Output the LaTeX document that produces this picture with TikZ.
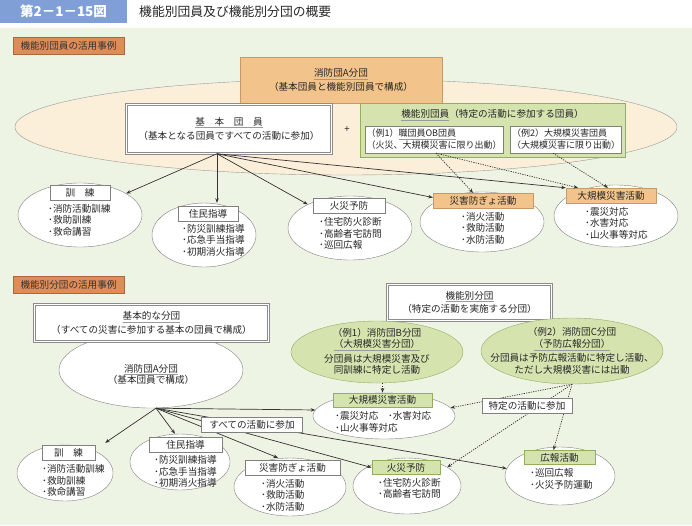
\documentclass[tikz,border=0pt]{standalone}
\usepackage{fontspec}
\setmainfont{Noto Sans CJK JP}
\usetikzlibrary{arrows.meta,shapes.geometric,calc}
\definecolor{bgc}{HTML}{EEF4E4}
\definecolor{hdr}{HTML}{7F9FD6}
\definecolor{secf}{HTML}{DE8C58}
\definecolor{secd}{HTML}{A9693D}
\definecolor{peach}{HTML}{FCEFDA}
\definecolor{orf}{HTML}{F2C38A}
\definecolor{ord}{HTML}{C49A68}
\definecolor{grf}{HTML}{D5E3AF}
\definecolor{grd}{HTML}{93AE5E}
\definecolor{txt}{HTML}{262626}
\definecolor{ulc}{HTML}{9A9A9A}
\definecolor{edg}{HTML}{808080}
\newcommand\uln[1]{{\color{ulc}$\underline{\hbox{\color{txt}#1}}$}}
\tikzset{
  base/.style={font=\fontsize{9.6}{11.5}\selectfont, text=txt},
  seclbl/.style={rectangle, draw=secd, fill=secf, minimum height=17, inner sep=0, text=black!80},
  obox/.style={rectangle, draw=ord, fill=orf, inner sep=0, align=center},
  dbox/.style={rectangle, draw=black!45, line width=0.5pt, double=white, double distance=1.6pt, fill=white, inner sep=0, align=center},
  wbox/.style={rectangle, draw=edg, fill=white, inner sep=1.5pt, align=left},
  gbox/.style={rectangle, draw=grd, line width=0.6pt, fill=grf, inner sep=0},
  ell/.style={ellipse, draw=edg, fill=white, inner sep=0},
  gell/.style={ellipse, draw=grd, fill=grf, inner sep=0},
  lbl/.style={rectangle, draw=edg, fill=white, inner sep=0, minimum height=15},
  olbl/.style={rectangle, draw=ord, fill=orf, inner sep=0, minimum height=15},
  glbl/.style={rectangle, draw=grd, line width=0.9pt, fill=grf, inner sep=0, minimum height=14},
  items/.style={anchor=west, inner sep=0, align=left},
  arr/.style={draw=black!80, line width=0.7pt, -{Stealth[length=4.5pt,width=3.5pt]}},
  darr/.style={arr, dash pattern=on 1.2pt off 1.2pt}
}
\begin{document}
\begin{tikzpicture}[x=1pt,y=-1pt,base]
\useasboundingbox (0,0) rectangle (692,525);
\fill[bgc] (0,28) rectangle (692,525);
% header
\node[fill=hdr, minimum width=127, minimum height=23, inner sep=0, text=white, font=\fontsize{13.5}{14}\selectfont\bfseries] (hdr) at (63.5,11.5) {第2－1－15図};
\node[anchor=west, inner sep=0, font=\fontsize{12.8}{14}\selectfont, text=black!85] (title) at (139,12) {機能別団員及び機能別分団の概要};
% ================= section 1
\node[seclbl, minimum width=111] (sec1) at (68.5,46) {機能別団員の活用事例};
\node[ellipse, draw=edg!80, fill=peach, minimum width=662, minimum height=96, inner sep=0] (big) at (346,127) {};
\node[obox, minimum width=202, minimum height=46] (a1) at (341,80) {\uln{消防団A分団}\\[2pt]（基本団員と機能別団員で構成）};
\node[dbox, minimum width=205, minimum height=49] (basic) at (229,129) {\uln{基　本　団　員}\\[3pt]（基本となる団員ですべての活動に参加）};
\node (plus) at (347,130) {+};
\node[gbox, minimum width=265, minimum height=54] (kino) at (492.5,130) {};
\node[inner sep=0] (kinot) at (492.5,115) {\uln{機能別団員}（特定の活動に参加する団員）};
\node[wbox, minimum width=138, minimum height=27, font=\fontsize{9}{12}\selectfont] (ex1) at (434,139.5) {（例1）\uln{職団員OB団員}\\（火災、大規模災害に限り出動）};
\node[wbox, minimum width=110, minimum height=27, font=\fontsize{9}{12}\selectfont] (ex2) at (566,139.5) {（例2）\uln{大規模災害団員}\\（大規模災害に限り出動）};
% lower ellipses
\node[ell, minimum width=124, minimum height=64] (e1) at (80,215) {};
\node[lbl, minimum width=60] (l1) at (80,193) {訓　練};
\node[items] (i1) at (48,220) {･消防活動訓練\\･救助訓練\\･救命講習};
\node[ell, minimum width=104, minimum height=64] (e2) at (204,235) {};
\node[lbl, minimum width=60] (l2) at (208,213.5) {住民指導};
\node[items] (i2) at (182,240) {･防災訓練指導\\･応急手当指導\\･初期消火指導};
\node[ell, minimum width=124, minimum height=64] (e3) at (350,228) {};
\node[lbl, minimum width=72] (l3) at (349,206) {火災予防};
\node[items] (i3) at (319,233.5) {･住宅防火診断\\･高齢者宅訪問\\･巡回広報};
\node[ell, minimum width=124, minimum height=60] (e4) at (482,222) {};
\node[olbl, minimum width=100] (l4) at (483,200.5) {災害防ぎょ活動};
\node[items] (i4) at (461,228) {･消火活動\\･救助活動\\･水防活動};
\node[ell, minimum width=124, minimum height=62] (e5) at (616,216) {};
\node[olbl, minimum width=90] (l5) at (611,195.5) {大規模災害活動};
\node[items] (i5) at (585,223) {･震災対応\\･水害対応\\･山火事等対応};
% arrows section 1
\coordinate (o1) at ([xshift=-12pt]basic.south);
\draw[arr] (o1) -- (e1.25);
\draw[arr] (o1) -- (o1 |- e2.north);
\draw[arr] (o1) -- (e3);
\draw[arr] (o1) -- ([yshift=3pt]l4.west);
\draw[arr] (o1) -- (l5.north west);
\draw[darr] ([xshift=2pt]ex1.south) -- ([xshift=-10pt]l4.north);
\draw[darr] ([xshift=2pt]ex1.south) -- ([xshift=-33pt]l5.north);
\draw[darr] ([xshift=-13pt]ex2.south) -- ([xshift=-3pt]l5.north);
% ================= section 2
\node[seclbl, minimum width=111] (sec2) at (68.5,284.5) {機能別分団の活用事例};
\node[ell, minimum width=184, minimum height=76] (a2) at (151,370) {};
\node[dbox, minimum width=234, minimum height=37] (basic2) at (151.5,323) {\uln{基本的な分団}\\[2pt]（すべての災害に参加する基本の団員で構成）};
\node[inner sep=0, align=center] (a2t) at (151,374.5) {\uln{消防団A分団}\\（基本団員で構成）};
\node[dbox, minimum width=164, minimum height=36] (kino2) at (469.5,302.5) {\uln{機能別分団}\\[2pt]（特定の活動を実施する分団）};
\node[gell, minimum width=172, minimum height=62, align=center] (gB) at (377,352) {};
\node[inner sep=0, align=center] (gBt) at (377,351.5) {（例1）消防団B分団\\\uln{（大規模災害分団）}\\[3pt]分団員は大規模災害及び\\同訓練に特定し活動};
\node[gell, minimum width=182, minimum height=66] (gC) at (572,351) {};
\node[inner sep=0, align=center] (gCt) at (572,351) {（例2）消防団C分団\\\uln{（予防広報分団）}\\[3pt]分団員は予防広報活動に特定し活動、\\ただし大規模災害には出動};
% lower
\node[ell, minimum width=142, minimum height=46] (d2) at (384,416) {};
\node[glbl, minimum width=99] (dl2) at (382.5,400) {大規模災害活動};
\node[items] (di2) at (335,422) {･震災対応　･水害対応\\･山火事等対応};
\node[ell, minimum width=96, minimum height=56] (k2) at (65,473) {};
\node[lbl, minimum width=53] (kl2) at (68.5,452.5) {訓　練};
\node[items] (ki2) at (42,480.5) {･消防活動訓練\\･救助訓練\\･救命講習};
\node[ell, minimum width=100, minimum height=56] (j2) at (180,462) {};
\node[lbl, minimum width=73] (jl2) at (185.5,444.5) {住民指導};
\node[items] (ji2) at (154,471.5) {･防災訓練指導\\･応急手当指導\\･初期消火指導};
\node[ell, minimum width=112, minimum height=58] (s2) at (290,487) {};
\node[lbl, minimum width=95] (sl2) at (292.5,467.5) {災害防ぎょ活動};
\node[items] (si2) at (261,495) {･消火活動\\･救助活動\\･水防活動};
\node[ell, minimum width=108, minimum height=56] (f2) at (407,486) {};
\node[glbl, minimum width=68] (fl2) at (406,467.5) {火災予防};
\node[items] (fi2) at (378,488.5) {･住宅防火診断\\･高齢者宅訪問};
\node[ell, minimum width=110, minimum height=58] (h2) at (560,476) {};
\node[glbl, minimum width=71] (hl2) at (559.5,457.5) {広報活動};
\node[items] (hi2) at (530,479) {･巡回広報\\･火災予防運動};
% arrows section 2
\coordinate (o2) at ([xshift=5pt]a2.south);
\draw[arr] (o2) -- ([shift={(10,-2)}]kl2.north east);
\draw[arr] (o2) -- ([xshift=-5pt]j2.north);
\draw[arr] (o2) -- ([xshift=-12pt]s2.north);
\draw[arr] (o2) -- (d2.175);
\draw[arr] (o2) -- (fl2.west);
\draw[arr] (o2) -- (h2.172);
\node[lbl, minimum width=101] (all) at (252,425) {すべての活動に参加};
\draw[darr] (gB.south -| dl2.north) -- (dl2.north);
\draw[darr] (gC.south) -- (d2.7);
\draw[darr] (gC.south) -- (f2.25);
\draw[darr] (gC.south) -- ([xshift=-6pt]hl2.north);
\node[lbl, minimum width=90] (tok) at (527,405.5) {特定の活動に参加};
\end{tikzpicture}
\end{document}
